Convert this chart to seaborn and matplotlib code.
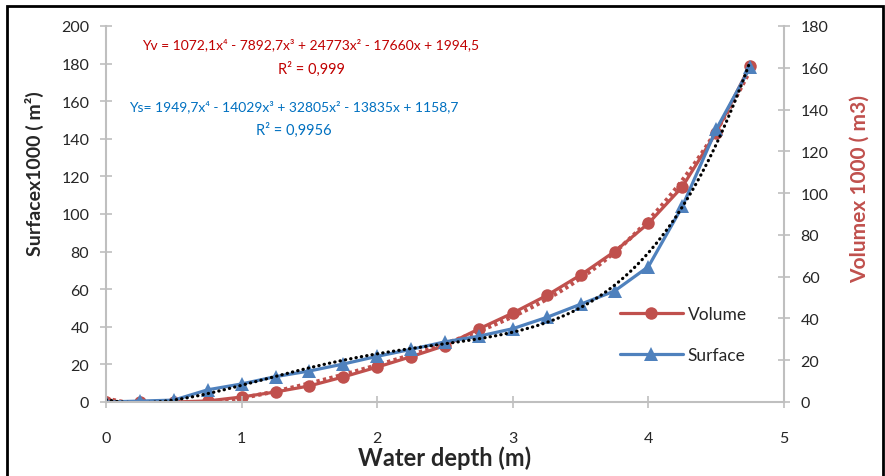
import numpy as np
import pandas as pd
import matplotlib
matplotlib.use("Agg")
import matplotlib.pyplot as plt
from matplotlib.lines import Line2D
from matplotlib.patches import Rectangle
import seaborn as sb

# data
depth = [0, 0.25, 0.5, 0.75, 1.0, 1.25, 1.5, 1.75, 2.0, 2.25,
         2.5, 2.75, 3.0, 3.25, 3.5, 3.75, 4.0, 4.25, 4.5, 4.75]
surface = [0, 0.5, 1, 6.5, 9.6, 13.5, 16.5, 20.2, 24.3, 28,
           32, 35, 39, 45, 52, 59, 72, 104, 145, 178]
volume = [0, 0, 0, 0.5, 2.4, 4.8, 7.7, 12, 16.7, 21.7,
          27, 35, 42.6, 51, 60.8, 72, 85.5, 103, 129, 161]

eq_volume = "Yv = 1072,1x⁴ - 7892,7x³ + 24773x² - 17660x + 1994,5"
r2_volume = "R² = 0,999"
eq_surface = "Ys= 1949,7x⁴ - 14029x³ + 32805x² - 13835x + 1158,7"
r2_surface = "R² = 0,9956"

red = "#C0504D"
blue = "#4F81BD"
grey = "#BFBFBF"

sb.set_style("white")
plt.rcParams['font.family'] = ['Lato', 'DejaVu Sans']

df = pd.DataFrame({'depth': depth, 'surface': surface, 'volume': volume})

fig = plt.figure(figsize=(8.85, 4.77), dpi=100)
ax = fig.add_axes([106/885, 1-403/477, (784-106)/885, (403-27)/477])
ax2 = ax.twinx()
ax.set_zorder(ax2.get_zorder() + 1)
ax.patch.set_visible(False)

# volume on right axis
sb.lineplot(data=df, x='depth', y='volume', ax=ax2, color=red, lw=2.3,
            marker='o', markersize=9, markeredgewidth=0)
xs = np.linspace(0, 4.75, 200)
pv = np.polyfit(depth, volume, 4)
ax2.plot(xs, np.polyval(pv, xs), color=red, lw=3, ls=(0, (0.8, 0.8)))

# surface on left axis
sb.lineplot(data=df, x='depth', y='surface', ax=ax, color=blue, lw=2.3,
            marker='^', markersize=10, markeredgewidth=0)
ps = np.polyfit(depth, surface, 4)
ax.plot(xs, np.polyval(ps, xs), color='black', lw=2.3, ls=(0, (0.1, 1.6)),
        dash_capstyle='round')

ax.set_xlim(0, 5)
ax.set_ylim(0, 200)
ax2.set_ylim(0, 180)
ax.set_xticks(range(0, 6))
ax.set_yticks(range(0, 201, 20))
ax2.set_yticks(range(0, 181, 20))

for a in (ax, ax2):
    for s in a.spines.values():
        s.set_visible(False)
ax.spines['left'].set_visible(True)
ax.spines['bottom'].set_visible(True)
ax2.spines['right'].set_visible(True)
for s in (ax.spines['left'], ax.spines['bottom'], ax2.spines['right']):
    s.set_color(grey)
    s.set_linewidth(1.5)

ax.tick_params(axis='y', direction='inout', length=8, width=1.2, color=grey,
               labelsize=11.5, pad=8, left=True)
ax.tick_params(axis='x', direction='inout', length=8, width=1.2, color=grey,
               labelsize=11.5, pad=17, bottom=True)
ax2.tick_params(axis='y', direction='inout', length=8, width=1.2, color=grey,
                labelsize=11.5, pad=8, right=True)

ax.set_ylabel("Surfacex1000 ( m²)", fontsize=14, fontweight='bold')
ax.yaxis.set_label_coords(-0.092, 0.61)
ax2.set_ylabel("Volumex 1000 ( m3)", fontsize=15, fontweight='bold', color=red)
ax2.yaxis.set_label_coords(1.097, 0.57)
ax.set_xlabel("Water depth (m)", fontsize=17, fontweight='bold')
ax.xaxis.set_label_coords(0.5, -0.115)

# trendline equations as shown in the chart
fig.text(311/885, 1-45/477, eq_volume, color="#C00000", fontsize=10,
         ha='center', va='center')
fig.text(311/885, 1-69/477, r2_volume, color="#C00000", fontsize=10.5,
         ha='center', va='center')
fig.text(294/885, 1-107/477, eq_surface, color="#0070C0", fontsize=10,
         ha='center', va='center')
fig.text(294/885, 1-130/477, r2_surface, color="#0070C0", fontsize=10.5,
         ha='center', va='center')

handles = [Line2D([], [], color=red, lw=2.3, marker='o', markersize=9,
                  markeredgewidth=0),
           Line2D([], [], color=blue, lw=2.3, marker='^', markersize=10,
                  markeredgewidth=0)]
fig.legend(handles, ["Volume", "Surface"], loc='upper left',
           bbox_to_anchor=(620/885, 1-307/477), frameon=False, fontsize=12.5,
           handlelength=3.6, handletextpad=0.3, labelspacing=1.45, borderpad=0,
           borderaxespad=0)

fig.patches.append(Rectangle((7/885, -0.1), (883-7)/885, (477-7)/477 + 0.1,
                             transform=fig.transFigure, fill=False,
                             edgecolor='black', lw=2, clip_on=False))

fig.savefig("out.png", dpi=100)
